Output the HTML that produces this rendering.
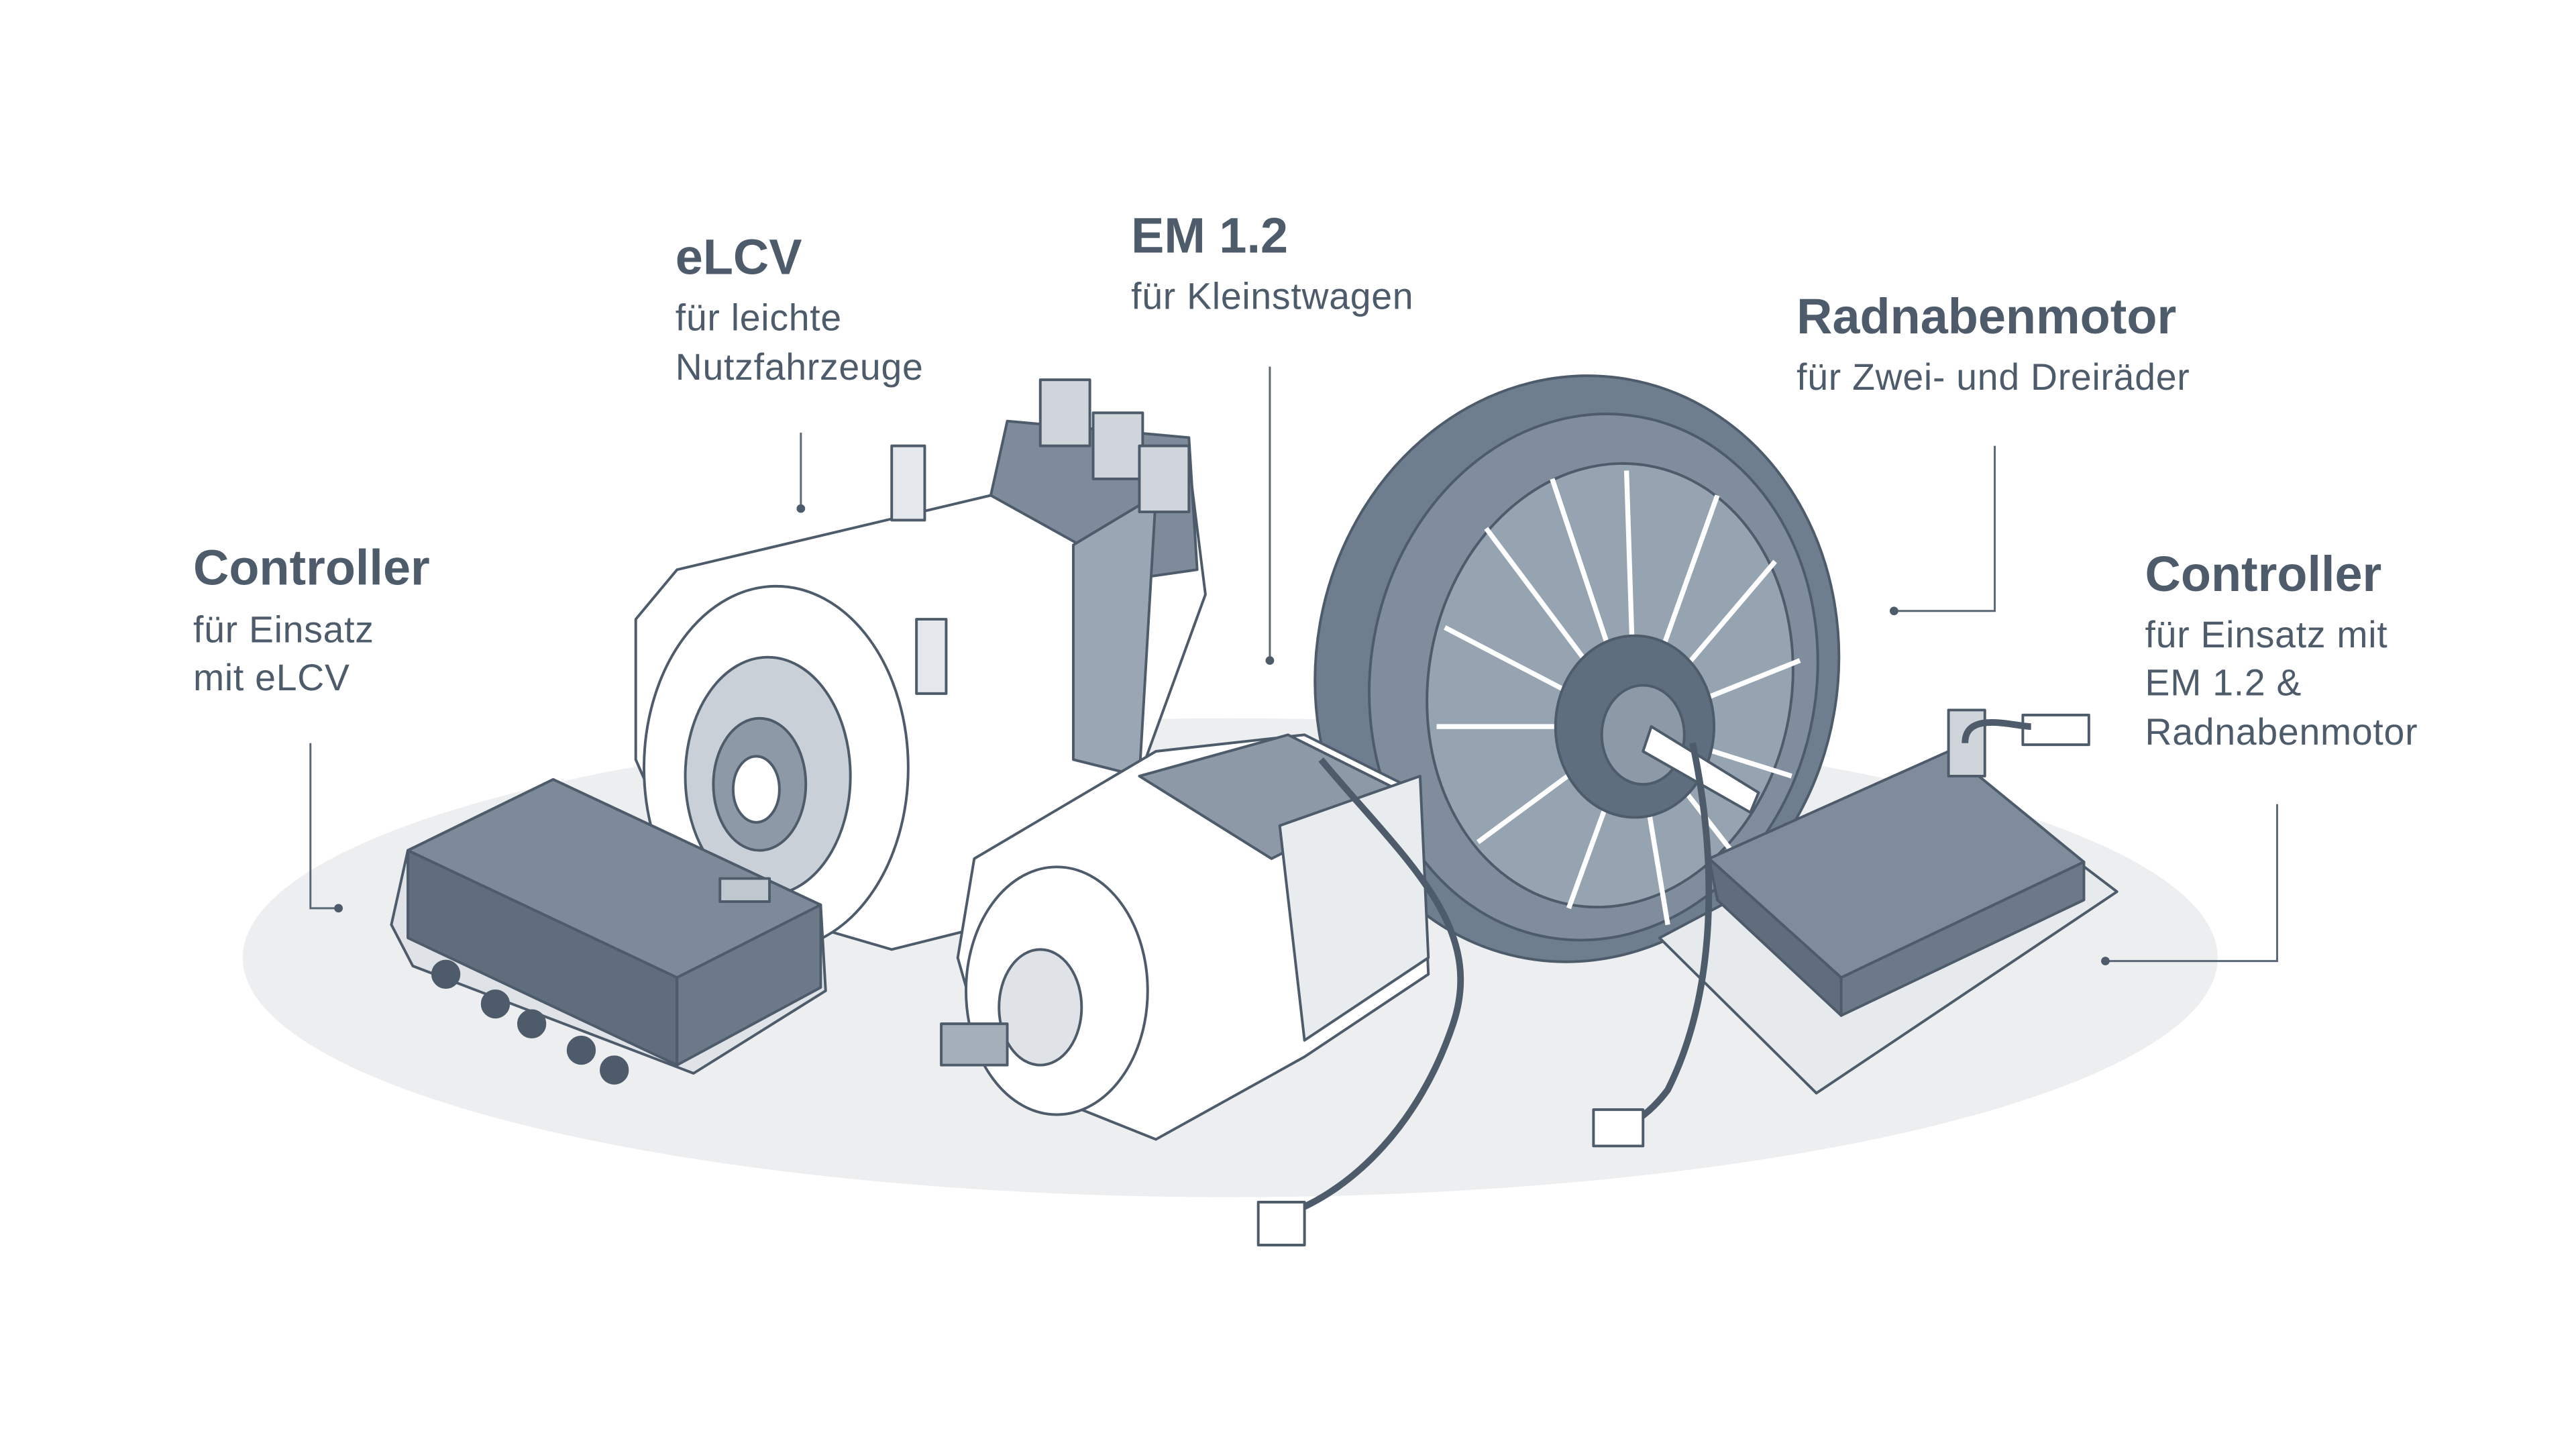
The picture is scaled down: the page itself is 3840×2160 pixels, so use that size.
<!DOCTYPE html>
<html><head><meta charset="utf-8"><style>
html,body{margin:0;padding:0;background:#fff;width:3840px;height:2160px;overflow:hidden}
svg{display:block}
text{font-family:"Liberation Sans",sans-serif;fill:#4d5b6a}
.t{font-weight:bold;font-size:30px}
.s{font-size:22.5px;letter-spacing:0.3px}
.l{stroke:#5a6776;stroke-width:1.2;fill:none}
.o{stroke:#4d5b6a;stroke-width:1.6;stroke-linejoin:round}
</style></head><body>
<svg width="3840" height="2160" viewBox="0 0 1560 877.5" xmlns="http://www.w3.org/2000/svg">
<ellipse cx="745" cy="580" rx="598" ry="145" fill="#eceef0"/>

<g class="o">
<polygon points="385,375 410,345 600,300 640,270 720,280 730,360 690,470 600,560 540,575 420,540 385,460" fill="#fff"/>
<polygon points="600,300 610,255 720,265 725,345 690,350" fill="#7d8b9a"/>
<polygon points="650,330 700,300 690,470 650,460" fill="#9aa6b3"/>
<ellipse cx="470" cy="465" rx="80" ry="110" fill="#fff"/>
<ellipse cx="465" cy="470" rx="50" ry="72" fill="#c9d0d7"/>
<ellipse cx="460" cy="475" rx="28" ry="40" fill="#8d99a6"/>
<ellipse cx="458" cy="478" rx="14" ry="20" fill="#fff"/>
<rect x="630" y="230" width="30" height="40" fill="#cfd5db"/>
<rect x="662" y="250" width="30" height="40" fill="#cfd5db"/>
<rect x="690" y="270" width="30" height="40" fill="#cfd5db"/>
<rect x="540" y="270" width="20" height="45" fill="#e4e8ec"/>
<rect x="555" y="375" width="18" height="45" fill="#e4e8ec"/>
</g>

<g class="o">
<polygon points="237,560 247,515 335,472 497,548 500,600 420,650 250,585" fill="#dfe3e7"/>
<polygon points="247,515 335,472 497,548 410,592" fill="#7c8a9a"/>
<polygon points="247,515 410,592 410,645 247,568" fill="#5f6d7d"/>
<polygon points="410,592 497,548 497,598 410,645" fill="#6b7989"/>
<rect x="436" y="532" width="30" height="14" fill="#bfc7cf"/>
<circle cx="270" cy="590" r="8" fill="#4d5b6a"/><circle cx="300" cy="608" r="8" fill="#4d5b6a"/>
<circle cx="322" cy="620" r="8" fill="#4d5b6a"/><circle cx="352" cy="636" r="8" fill="#4d5b6a"/>
<circle cx="372" cy="648" r="8" fill="#4d5b6a"/>
</g>

<g class="o">
<ellipse cx="955" cy="405" rx="158" ry="178" transform="rotate(10 955 405)" fill="#6f7e8f"/>
<ellipse cx="965" cy="410" rx="135" ry="160" transform="rotate(10 965 410)" fill="#7f8d9d"/>
<ellipse cx="975" cy="415" rx="110" ry="135" transform="rotate(10 975 415)" fill="#96a3b0"/>
<g stroke="#fff" stroke-width="3">
<line x1="990" y1="440" x2="900" y2="320"/><line x1="990" y1="440" x2="940" y2="290"/>
<line x1="990" y1="440" x2="985" y2="285"/><line x1="990" y1="440" x2="1040" y2="300"/>
<line x1="990" y1="440" x2="1075" y2="340"/><line x1="990" y1="440" x2="1090" y2="400"/>
<line x1="990" y1="440" x2="1085" y2="470"/><line x1="990" y1="440" x2="1060" y2="530"/>
<line x1="990" y1="440" x2="1010" y2="560"/><line x1="990" y1="440" x2="950" y2="550"/>
<line x1="990" y1="440" x2="895" y2="510"/><line x1="990" y1="440" x2="870" y2="440"/>
<line x1="990" y1="440" x2="875" y2="380"/>
</g>
<ellipse cx="990" cy="440" rx="48" ry="55" fill="#5f6e7e"/>
<ellipse cx="995" cy="445" rx="25" ry="30" fill="#8c99a7"/>
<polygon points="1000,440 1065,480 1060,492 995,455" fill="#fff"/>
</g>

<g class="o">
<polygon points="590,520 700,455 790,445 860,480 865,590 790,640 700,690 600,650 580,580" fill="#fff"/>
<polygon points="690,470 780,445 850,480 770,520" fill="#8d99a6"/>
<polygon points="775,500 860,470 865,580 790,630" fill="#e8ecef"/>
<ellipse cx="640" cy="600" rx="55" ry="75" fill="#fff"/>
<ellipse cx="630" cy="610" rx="25" ry="35" fill="#dfe3e7"/>
<rect x="570" y="620" width="40" height="25" fill="#a5afba"/>
</g>

<g class="o">
<polygon points="1005,568 1190,470 1282,540 1100,662" fill="#e7eaed"/>
<polygon points="1035,520 1180,455 1262,522 1115,592" fill="#7e8c9b"/>
<polygon points="1035,520 1115,592 1115,615 1040,545" fill="#5f6d7d"/>
<polygon points="1115,592 1262,522 1262,545 1115,615" fill="#6b7989"/>
<rect x="1180" y="430" width="22" height="40" fill="#cfd5db"/>
<rect x="1225" y="433" width="40" height="18" fill="#fff"/>
</g>

<g fill="none" stroke="#4d5b6a" stroke-width="4">
<path d="M800,460 C850,520 900,560 880,620 C860,680 820,720 780,735"/>
<path d="M1025,450 C1040,520 1040,600 1010,660 C995,680 980,685 970,685"/>
<path d="M1190,450 C1190,430 1220,440 1230,440"/>
</g>
<rect x="762" y="728" width="28" height="26" fill="#fff" class="o"/>
<rect x="965" y="672" width="30" height="22" fill="#fff" class="o"/>

<path class="l" d="M188,450 V550 H205"/><circle cx="205" cy="550" r="2.6" fill="#4d5b6a"/>
<path class="l" d="M485,262 V308"/><circle cx="485" cy="308" r="2.6" fill="#4d5b6a"/>
<path class="l" d="M769,222 V400"/><circle cx="769" cy="400" r="2.6" fill="#4d5b6a"/>
<path class="l" d="M1208,270 V370 H1147"/><circle cx="1147" cy="370" r="2.6" fill="#4d5b6a"/>
<path class="l" d="M1379,487 V582 H1275"/><circle cx="1275" cy="582" r="2.6" fill="#4d5b6a"/>

<text class="t" x="117" y="354">Controller</text>
<text class="s" x="117" y="389">für Einsatz</text>
<text class="s" x="117" y="418">mit eLCV</text>

<text class="t" x="409" y="166">eLCV</text>
<text class="s" x="409" y="200">für leichte</text>
<text class="s" x="409" y="230">Nutzfahrzeuge</text>

<text class="t" x="685" y="153">EM 1.2</text>
<text class="s" x="685" y="187">für Kleinstwagen</text>

<text class="t" x="1088" y="202">Radnabenmotor</text>
<text class="s" x="1088" y="236">für Zwei- und Dreiräder</text>

<text class="t" x="1299" y="358">Controller</text>
<text class="s" x="1299" y="392">für Einsatz mit</text>
<text class="s" x="1299" y="421">EM 1.2 &amp;</text>
<text class="s" x="1299" y="451">Radnabenmotor</text>
</svg>
</body></html>
